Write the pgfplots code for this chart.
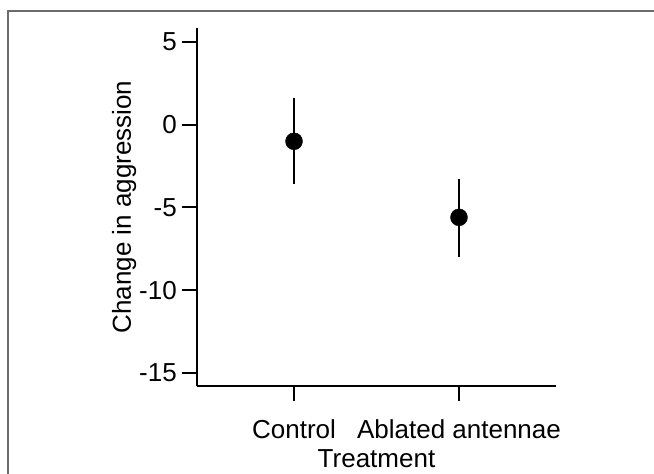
\documentclass[border=0pt]{standalone}
\usepackage{fontspec}
\setmainfont{Liberation Sans}
\usepackage{pgfplots}
\pgfplotsset{compat=1.18}

\newcommand{\lblfont}{\fontsize{26}{31}\selectfont}

\begin{document}
\begin{tikzpicture}
% page = 654 x 474 (1pt per pixel of the reference)
\path[use as bounding box] (0pt,0pt) rectangle (654pt,474pt);
\draw[line width=2pt, gray!85!black] (7.5pt,0pt) -- (7.5pt,463pt) -- (654pt,463pt);

\begin{axis}[
    at={(197pt,88pt)}, anchor=south west,
    scale only axis,
    width=359pt, height=358pt,
    xmin=0.412, xmax=2.588,
    ymin=-15.8, ymax=5.85,
    axis x line=bottom, axis y line=left,
    axis line style={-, line width=2pt, black},
    xtick={1,2},
    xticklabels={Control, Ablated antennae},
    ytick={-15,-10,-5,0,5},
    yticklabels={-15,-10,-5,0,5},
    tick align=outside,
    major tick length=15pt,
    tick style={line width=2pt, black},
    tick label style={font=\lblfont, inner sep=0pt},
    xticklabel style={yshift=-18pt},
    yticklabel style={xshift=-5pt},
    label style={font=\lblfont, inner sep=0pt},
    xlabel={Treatment},
    ylabel={Change in aggression},
    xlabel style={at={(axis description cs:0.5,-0.229)}, anchor=base},
    ylabel style={at={(axis description cs:-0.237,0.5)}, anchor=north, rotate=0},
    clip=false,
]
\addplot[black, only marks, mark=*, mark size=8.5pt,
    error bars/.cd, y dir=both, y explicit, error mark=none,
    error bar style={line width=2pt, black}]
coordinates {
    (1,-1.0) += (0,2.6) -= (0,2.6)
    (2,-5.6) += (0,2.3) -= (0,2.4)
};
\end{axis}
\end{tikzpicture}
\end{document}
